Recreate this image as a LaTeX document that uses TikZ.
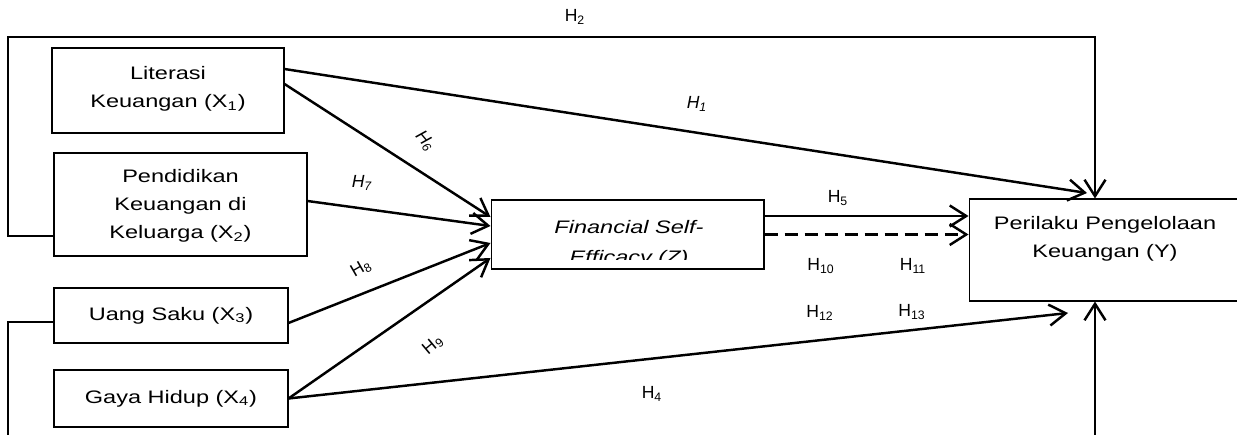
\documentclass[tikz,border=0pt]{standalone}
\usepackage{fontspec}
\setmainfont[FakeStretch=1.3]{Liberation Sans}
\newfontfamily\hypfont{Liberation Sans}
\usetikzlibrary{arrows.meta}

\begin{document}
\begin{tikzpicture}[x=0.02cm, y=-0.02cm, line width=1.4pt,
    box/.style={draw, line width=0.6pt, inner sep=0pt},
    txt/.style={align=center, font=\fontsize{10.3}{16}\selectfont},
    hyp/.style={font=\hypfont\fontsize{10}{11}\selectfont, inner sep=1pt},
    arr/.style={-{Straight Barb[length=3.3mm, width=4.2mm]}}]
  \useasboundingbox (0,0) rectangle (1237,435);

  % variabel bebas di kiri
  \node[box, minimum width=4.64cm, minimum height=1.7cm]  (x1) at (168,90.5)  {};
  \node[box, minimum width=5.06cm, minimum height=2.06cm] (x2) at (180.5,204.5) {};
  \node[box, minimum width=4.68cm, minimum height=1.1cm]  (x3) at (171,315.5) {};
  \node[box, minimum width=4.68cm, minimum height=1.14cm] (x4) at (171,398.5) {};
  \node[txt] (x1t) at (168,89)  {Literasi\\Keuangan (X\textsubscript{1})};
  \node[txt] (x2t) at (180.5,206) {Pendidikan\\Keuangan di\\Keluarga (X\textsubscript{2})};
  \node[txt] (x3t) at (171,315.5) {Uang Saku (X\textsubscript{3})};
  \node[txt] (x4t) at (171,398.5) {Gaya Hidup (X\textsubscript{4})};

  % mediasi Z (baris kedua terpotong)
  \node[box, minimum width=5.46cm, minimum height=1.38cm] (z) at (627.5,234.5) {};
  \begin{scope}
    \clip (z.north west) rectangle ([yshift=0.2cm]z.south east);
    \node[txt, font=\fontsize{10.3}{17}\selectfont\itshape] (zt) at (629,244)
      {Financial Self-\\Efficacy (Z)};
  \end{scope}

  % variabel terikat Y (keluar dari tepi kanan)
  \node[box, minimum width=5.52cm, minimum height=2.04cm] (y) at (1107,250) {};
  \node[txt] (yt) at (1105,239) {Perilaku Pengelolaan\\Keuangan (Y)};

  % titik bantu
  \coordinate (top) at (1095,37);
  \coordinate (bot) at (8,445);
  \coordinate (Y1)  at (1087,193);
  \coordinate (Y4)  at (1068,313);

  % H1, H4 langsung ke Y
  \draw[arr] ([yshift=0.43cm]x1.east) -- (Y1);
  \draw[arr] (x4.east) -- (Y4);

  % H6 - H9 ke Z
  \draw[arr] ([yshift=0.13cm]x1.east) -- ([yshift=0.35cm]z.west);
  \draw[arr] ([yshift=0.07cm]x2.east) -- ([yshift=0.17cm]z.west);
  \draw[arr] ([yshift=-0.15cm]x3.east) -- ([yshift=-0.17cm]z.west);
  \draw[arr] (x4.east) -- ([yshift=-0.47cm]z.west);

  % H5 dan jalur mediasi (putus-putus)
  \draw[arr] ([yshift=0.37cm]z.east) -- ([yshift=0.37cm]z.east -| y.west);
  \draw[arr, dashed, dash pattern=on 7.4pt off 4pt] (z.east) -- (z.east -| y.west);

  % H2 lewat atas, H3 lewat bawah
  \draw[arr] ([yshift=-0.63cm]x2.west) -| (bot |- top) -- (top) -- (top |- y.north);
  \draw[arr] ([yshift=-0.13cm]x3.west) -| (bot) -| (top |- y.south);

  % label hipotesis
  \node[hyp] (h2)  at (575,17)  {H\textsubscript{2}};
  \node[hyp] (h1)  at (697,104) {\itshape H\textsubscript{1}};
  \node[hyp, rotate=-50] (h6) at (425,141) {\itshape H\textsubscript{6}};
  \node[hyp] (h7)  at (362,183) {\itshape H\textsubscript{7}};
  \node[hyp, rotate=30]  (h8) at (361,268) {H\textsubscript{8}};
  \node[hyp, rotate=40]  (h9) at (433,345) {H\textsubscript{9}};
  \node[hyp] (h5)  at (838,198) {H\textsubscript{5}};
  \node[hyp] (h10) at (821,266) {H\textsubscript{10}};
  \node[hyp] (h11) at (913,266) {H\textsubscript{11}};
  \node[hyp] (h12) at (820,313) {H\textsubscript{12}};
  \node[hyp] (h13) at (912,312) {H\textsubscript{13}};
  \node[hyp] (h4)  at (652,394) {H\textsubscript{4}};
\end{tikzpicture}
\end{document}
